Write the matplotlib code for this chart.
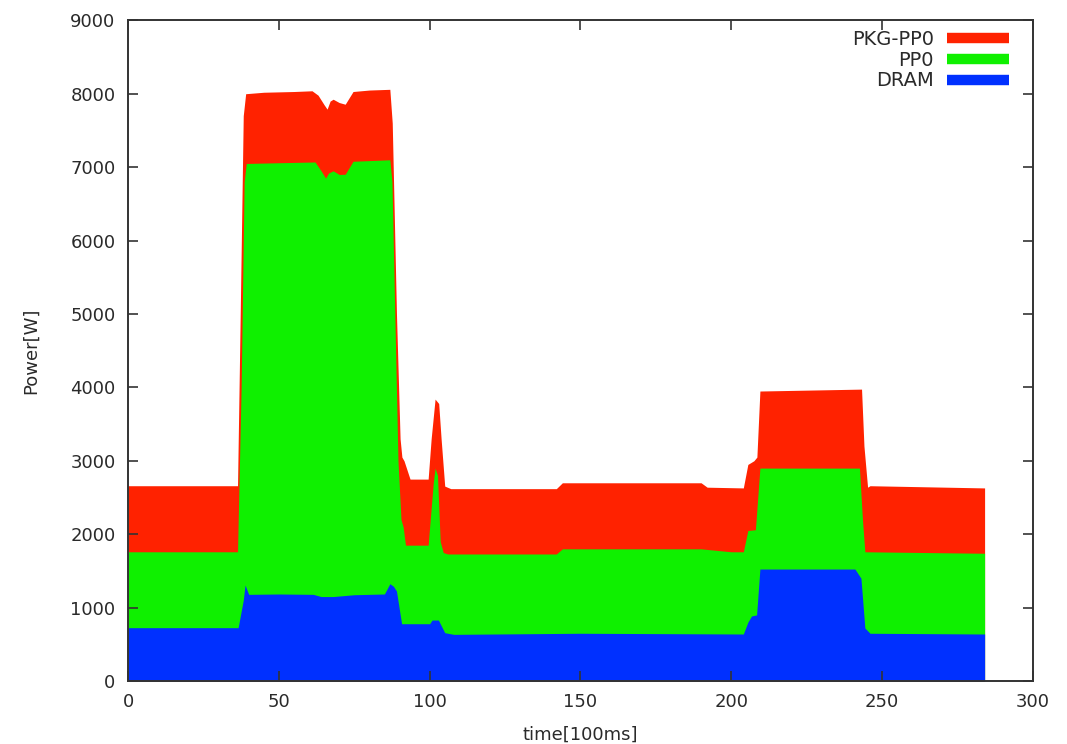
import matplotlib
matplotlib.use("Agg")
import matplotlib.pyplot as plt
from matplotlib.lines import Line2D

plt.rcParams['font.family'] = ['DejaVu Sans']

# ---- data (top of each filled band) ----
pkg_x = [0, 36.3, 37.2, 38.2, 39, 45, 55, 61, 63, 65, 66, 67, 68, 70, 72, 74.6, 80, 86.8,
         87.6, 89, 90.2, 90.8, 91.5, 93.5, 99.5, 100.5, 101.8, 103, 103.8, 105, 107,
         142, 144, 190, 192, 204, 205.5, 207.5, 208.5, 209.5, 243.2, 244, 245.2, 246, 284]
pkg_y = [2660, 2660, 5000, 7700, 8000, 8020, 8030, 8040, 7980, 7850, 7790, 7900, 7925, 7880, 7857, 8030, 8050, 8060,
         7600, 5000, 3300, 3050, 3000, 2750, 2750, 3300, 3840, 3780, 3300, 2655, 2620,
         2620, 2700, 2700, 2640, 2630, 2950, 3000, 3050, 3950, 3976, 3200, 2640, 2660, 2630]

pp0_x = [0, 36.3, 37.5, 38.5, 39.2, 50, 62, 64, 65.5, 66.5, 68, 70, 72, 74.6, 86.8,
         87.5, 89.5, 90.5, 91.2, 92, 99.5, 101.2, 101.8, 102.6, 103.5, 104.5, 106,
         142, 144, 190, 200, 204, 205.5, 208, 209.5, 242.5, 243.5, 244.3, 284]
pp0_y = [1760, 1760, 4000, 6800, 7050, 7060, 7070, 6950, 6850, 6920, 6950, 6900, 6903, 7080, 7100,
         6800, 3000, 2200, 2100, 1850, 1850, 2700, 2900, 2800, 1900, 1750, 1730,
         1730, 1800, 1800, 1760, 1760, 2050, 2060, 2900, 2900, 2200, 1760, 1740]

dram_x = [0, 36.5, 38.2, 38.8, 40, 50, 61.4, 64, 68, 75, 85, 86.8, 88, 89, 90.7,
          100, 100.8, 102.9, 105, 108, 150, 204, 205.5, 206.7, 208.4, 209.5, 241, 243, 244.3, 246, 284]
dram_y = [726, 726, 1100, 1307, 1180, 1185, 1180, 1150, 1150, 1175, 1185, 1325, 1290, 1225, 780,
          780, 830, 830, 658, 635, 650, 640, 800, 885, 900, 1525, 1525, 1400, 722, 650, 640]

series_names = ['PKG-PP0', 'PP0', 'DRAM']
colors = ['#ff2200', '#0ff000', '#0030ff']

x_ticks = [0, 50, 100, 150, 200, 250, 300]
y_ticks = [0, 1000, 2000, 3000, 4000, 5000, 6000, 7000, 8000, 9000]

fig = plt.figure(figsize=(10.67, 7.44), dpi=100)
ax = fig.add_axes([0.120, 0.0847, 0.848, 0.888])

ax.fill_between(pkg_x, 0, pkg_y, color=colors[0], linewidth=0)
ax.fill_between(pp0_x, 0, pp0_y, color=colors[1], linewidth=0)
ax.fill_between(dram_x, 0, dram_y, color=colors[2], linewidth=0)

ax.set_xlim(0, 300)
ax.set_ylim(0, 9000)
ax.set_xticks(x_ticks)
ax.set_yticks(y_ticks)
ax.tick_params(direction='in', top=True, right=True, length=7, width=1.2,
               labelsize=13, colors='#333333', labelcolor='#2a2a2a', pad=9)
for s in ax.spines.values():
    s.set_color('#333333')
    s.set_linewidth(1.4)

ax.set_xlabel('time[100ms]', fontsize=13, color='#2a2a2a', labelpad=10)
ax.set_ylabel('Power[W]', fontsize=13, color='#2a2a2a', labelpad=22)

handles = [Line2D([], [], color=c, linewidth=7.5, solid_capstyle='butt') for c in colors]
leg = ax.legend(handles, series_names, loc='upper right', bbox_to_anchor=(0.9735, 0.985),
                frameon=False, markerfirst=False, fontsize=14, handlelength=3.2,
                handletextpad=0.67, labelspacing=0.08, borderpad=0, borderaxespad=0)
for t in leg.get_texts():
    t.set_color('#2a2a2a')

fig.savefig('out.png', dpi=100)
